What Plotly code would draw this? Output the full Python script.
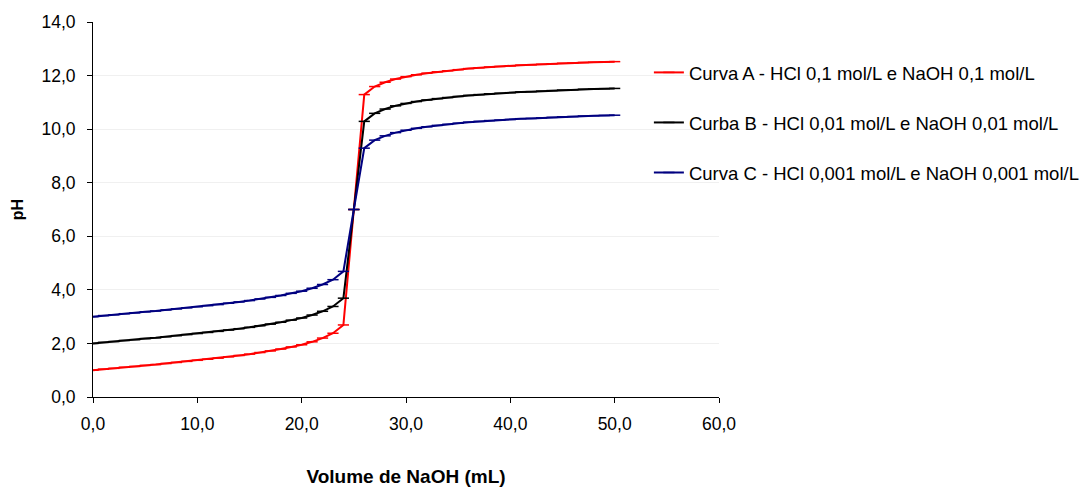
import plotly.graph_objects as go

volume_ml = list(range(0, 51))

ph_curva_a = [1.00, 1.04, 1.07, 1.11, 1.14, 1.18, 1.21, 1.25, 1.29, 1.33,
              1.37, 1.41, 1.45, 1.50, 1.55, 1.60, 1.66, 1.72, 1.79, 1.87,
              1.95, 2.06, 2.20, 2.38, 2.69, 7.00, 11.29, 11.59, 11.75, 11.87,
              11.96, 12.03, 12.09, 12.14, 12.18, 12.22, 12.26, 12.29, 12.32, 12.34,
              12.36, 12.39, 12.40, 12.42, 12.44, 12.46, 12.47, 12.49, 12.50, 12.51,
              12.52]

ph_curva_b = [2.00, 2.04, 2.07, 2.11, 2.14, 2.18, 2.21, 2.25, 2.29, 2.33,
              2.37, 2.41, 2.45, 2.50, 2.55, 2.60, 2.66, 2.72, 2.79, 2.87,
              2.95, 3.06, 3.20, 3.38, 3.69, 7.00, 10.29, 10.59, 10.75, 10.87,
              10.96, 11.03, 11.09, 11.14, 11.18, 11.22, 11.26, 11.29, 11.32, 11.34,
              11.36, 11.39, 11.40, 11.42, 11.44, 11.46, 11.47, 11.49, 11.50, 11.51,
              11.52]

ph_curva_c = [3.00, 3.04, 3.07, 3.11, 3.14, 3.18, 3.21, 3.25, 3.29, 3.33,
              3.37, 3.41, 3.45, 3.50, 3.55, 3.60, 3.66, 3.72, 3.79, 3.87,
              3.95, 4.06, 4.20, 4.38, 4.69, 7.00, 9.29, 9.59, 9.75, 9.87,
              9.96, 10.03, 10.09, 10.14, 10.18, 10.22, 10.26, 10.29, 10.32, 10.34,
              10.36, 10.39, 10.40, 10.42, 10.44, 10.46, 10.47, 10.49, 10.50, 10.51,
              10.52]

series_names = ["Curva A - HCl 0,1 mol/L e NaOH 0,1 mol/L",
                "Curba B - HCl 0,01 mol/L e NaOH 0,01 mol/L",
                "Curva C - HCl 0,001 mol/L e NaOH 0,001 mol/L"]
series_values = [ph_curva_a, ph_curva_b, ph_curva_c]
series_colors = ["#FF0000", "#000000", "#000080"]

x_ticks = [0, 10, 20, 30, 40, 50, 60]
y_ticks = [0, 2, 4, 6, 8, 10, 12, 14]

fig = go.Figure()
for i, (name, vals, col) in enumerate(zip(series_names, series_values, series_colors)):
    fig.add_trace(go.Scatter(
        x=volume_ml, y=vals, name=name, mode="lines+markers",
        line=dict(color=col, width=2),
        marker=dict(symbol="line-ew", size=8, line=dict(color=col, width=1.5), color=col),
        legendgroup=f"g{i}",
    ))

font = "Liberation Sans, Arial, sans-serif"
fig.update_layout(
    width=1082, height=487,
    margin=dict(l=93, r=363, t=22, b=90, autoexpand=False),
    paper_bgcolor="white", plot_bgcolor="white",
    separators=",.",
    font=dict(family=font, size=17.5, color="#000000"),
    showlegend=True,
    legend=dict(x=0.888, y=0.915, xanchor="left", yanchor="top",
                bgcolor="rgba(255,255,255,0)", font=dict(size=18.5, family=font),
                traceorder="grouped", tracegroupgap=23, itemsizing="trace"),
    xaxis=dict(range=[0, 60], tickvals=x_ticks, tickformat=".1f",
               showline=True, linecolor="#000000", linewidth=1,
               ticks="outside", ticklen=5, tickcolor="#000000",
               ticklabelstandoff=6, automargin=False,
               tickfont=dict(size=17.5, family=font),
               showgrid=False, zeroline=False,
               title=dict(text="<b>Volume de NaOH (mL)</b>", font=dict(size=19, family=font), standoff=38)),
    yaxis=dict(range=[0, 14], tickvals=y_ticks, tickformat=".1f",
               showline=True, linecolor="#000000", linewidth=1,
               ticks="outside", ticklen=5, tickcolor="#000000",
               ticklabelstandoff=8, automargin=False,
               tickfont=dict(size=17.5, family=font),
               showgrid=True, gridcolor="#F0F0F0", gridwidth=1, zeroline=False,
               title=dict(text="<b>pH</b>", font=dict(size=16, family=font), standoff=13)),
)

fig.write_html("out.html")
